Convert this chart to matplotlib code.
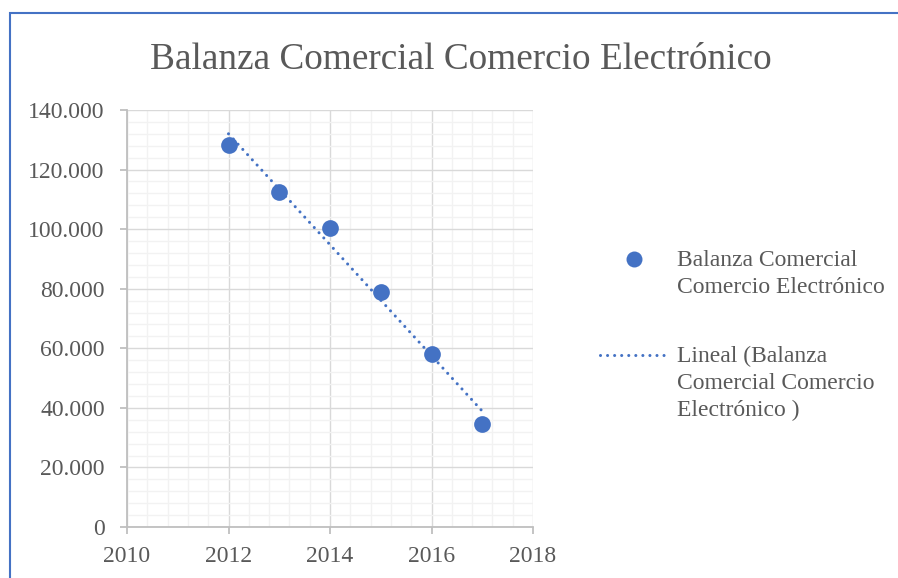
import matplotlib
matplotlib.use('Agg')
import matplotlib.pyplot as plt
from matplotlib.ticker import FuncFormatter, MultipleLocator
from matplotlib.lines import Line2D
from matplotlib.patches import Rectangle
import numpy as np

years = [2012, 2013, 2014, 2015, 2016, 2017]
balanza = [128250, 112400, 100300, 78900, 58200, 34700]

title = 'Balanza Comercial Comercio Electrónico'
serie_label = 'Balanza Comercial\nComercio Electrónico'
trend_label = 'Lineal (Balanza\nComercial Comercio\nElectrónico )'

azul = '#4472C4'
gris_txt = '#595959'
plt.rcParams['font.family'] = ['Liberation Serif', 'DejaVu Serif']

fig = plt.figure(figsize=(8.98, 5.78), dpi=100)
ax = fig.add_axes([127 / 898, 51 / 578, 406 / 898, 417 / 578])

# linea de tendencia (ajuste lineal)
coef = np.polyfit(years, balanza, 1)
xt = np.array([years[0], years[-1]])
ax.plot(xt, np.polyval(coef, xt), color=azul, lw=2.2,
        linestyle=(0, (0.01, 2.3)), dash_capstyle='round', zorder=3)
ax.scatter(years, balanza, s=145, color=azul, zorder=4, linewidths=0)

ax.set_xlim(2010, 2018)
ax.set_ylim(0, 140000)
ax.xaxis.set_major_locator(MultipleLocator(2))
ax.xaxis.set_minor_locator(MultipleLocator(0.4))
ax.yaxis.set_major_locator(MultipleLocator(20000))
ax.yaxis.set_minor_locator(MultipleLocator(4000))
ax.yaxis.set_major_formatter(FuncFormatter(lambda v, p: f'{int(v):,}'.replace(',', '.')))

ax.grid(which='major', color='#d9d9d9', lw=1.0)
ax.grid(which='minor', color='#f2f2f2', lw=1.0)
ax.set_axisbelow(True)
for s in ['top', 'right']:
    ax.spines[s].set_visible(False)
for s in ['left', 'bottom']:
    ax.spines[s].set_color('#bfbfbf')
    ax.spines[s].set_linewidth(1.3)
ax.tick_params(which='major', length=5, color='#bfbfbf', width=1.3,
               labelsize=17, labelcolor=gris_txt)
ax.tick_params(axis='x', which='major', pad=9)
ax.tick_params(axis='y', which='major', pad=11)
ax.tick_params(which='minor', length=0)

fig.text(461 / 898, 1 - 60 / 578, title, ha='center', va='center',
         fontsize=26.8, color=gris_txt)

# leyenda
fig.add_artist(Line2D([634 / 898], [1 - 259 / 578], marker='o', markersize=11.5,
                      color=azul, markeredgewidth=0, transform=fig.transFigure))
fig.add_artist(Line2D([600 / 898, 668 / 898], [1 - 355 / 578, 1 - 355 / 578],
                      color=azul, lw=2.2, linestyle=(0, (0.01, 2.3)),
                      dash_capstyle='round', transform=fig.transFigure))
fig.text(677 / 898, 1 - 250 / 578, serie_label, ha='left', va='top',
         fontsize=17, color=gris_txt, linespacing=1.36)
fig.text(677 / 898, 1 - 346 / 578, trend_label, ha='left', va='top',
         fontsize=17, color=gris_txt, linespacing=1.36)

# borde
fig.add_artist(Rectangle((10 / 898, -0.1), 1.2, 1 - 13.5 / 578 + 0.1,
                         transform=fig.transFigure, fill=False,
                         edgecolor='#4472C4', lw=1.5))

fig.savefig('out.png', dpi=100)
